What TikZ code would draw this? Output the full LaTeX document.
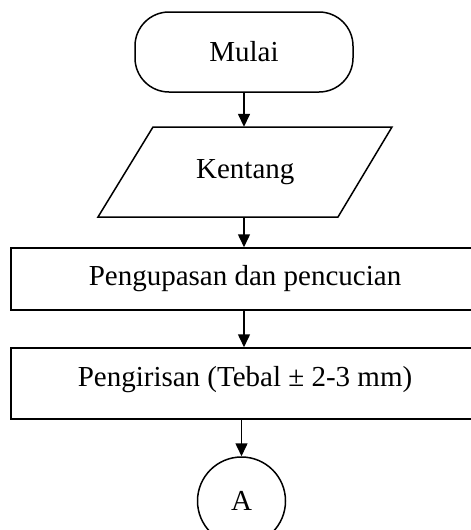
\documentclass[tikz,border=0pt]{standalone}
\usepackage{fontspec}
\setmainfont{Liberation Serif}
\usetikzlibrary{arrows.meta}
\begin{document}
\begin{tikzpicture}[x=1pt,y=1pt,
  box/.style={draw, line width=1.5pt, inner sep=0pt, font=\fontsize{29}{34}\selectfont},
  flow/.style={line width=1.5pt, -{Triangle[length=13pt,width=12pt]}}]
\useasboundingbox (0,0) rectangle (471,-530);
\clip (0,0) rectangle (471,-530);
\node[box, rounded corners=34pt, minimum width=218pt, minimum height=80pt] (mulai) at (244,-52) {Mulai};
\node[inner sep=0pt, minimum width=240pt, minimum height=90pt, font=\fontsize{29}{34}\selectfont] (kentang) at (245.25,-172) {Kentang};
\draw[line width=1.5pt] (153,-127) -- (392,-127) -- (338,-217) -- (98,-217) -- cycle;
\node[box, minimum width=468pt, minimum height=62pt] (kupas) at (245,-279) {Pengupasan dan pencucian};
\node[box, minimum width=468pt, minimum height=71pt, text depth=14pt] (iris) at (245,-383.5) {Pengirisan (Tebal ± 2-3 mm)};
\node[box, circle, minimum size=88pt] (a) at (241.5,-501) {A};
\draw[flow] (mulai.south) -- (mulai.south |- kentang.north);
\draw[flow] (kentang.south -| mulai.south) -- (mulai.south |- kupas.north);
\draw[flow] (kupas.south -| mulai.south) -- (mulai.south |- iris.north);
\draw[flow] (iris.south -| a.north) -- (a.north);
\end{tikzpicture}
\end{document}
